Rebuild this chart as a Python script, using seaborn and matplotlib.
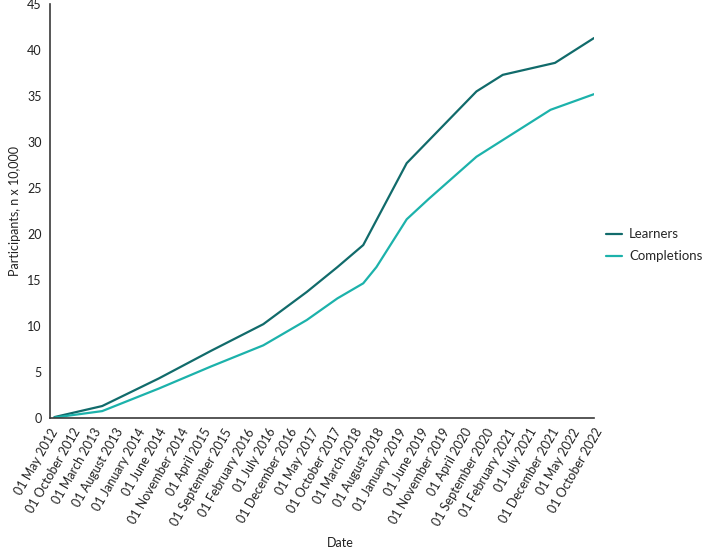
import matplotlib
matplotlib.use("Agg")
import matplotlib.pyplot as plt
import matplotlib.dates as mdates
import seaborn as sns
import pandas as pd

learner_dates = ["2012-06-01", "2013-05-01", "2014-06-01", "2015-06-01", "2016-06-01",
                 "2017-04-01", "2017-11-01", "2018-05-01", "2019-03-01",
                 "2020-07-01", "2021-01-01", "2022-01-01", "2022-10-01"]
learner_values = [0.1, 1.3, 4.3, 7.3, 10.2, 13.7, 16.4, 18.8, 27.7,
                  35.5, 37.3, 38.6, 41.3]

completion_dates = ["2012-06-01", "2013-05-01", "2014-06-01", "2015-06-01", "2016-06-01",
                    "2017-04-01", "2017-11-01", "2018-05-01", "2018-08-01", "2019-03-01",
                    "2019-08-01", "2020-07-01", "2021-12-01", "2022-10-01"]
completion_values = [0.05, 0.75, 3.2, 5.6, 7.9, 10.65, 13.0, 14.64, 16.4, 21.6,
                     23.8, 28.4, 33.5, 35.2]

series_names = ["Learners", "Completions"]
colors = ["#116b6b", "#1cb2ab"]

df = pd.concat([
    pd.DataFrame({"Date": pd.to_datetime(learner_dates), "value": learner_values, "series": series_names[0]}),
    pd.DataFrame({"Date": pd.to_datetime(completion_dates), "value": completion_values, "series": series_names[1]}),
])

sns.set_theme(style="white")
plt.rcParams["font.family"] = ["Lato", "DejaVu Sans"]

fig = plt.figure(figsize=(7.04, 5.48), dpi=100)
ax = fig.add_axes([50/704, 1-418/548, 544/704, 414/548])

sns.lineplot(data=df, x="Date", y="value", hue="series", hue_order=series_names,
             palette=colors, linewidth=1.6, ax=ax)

tick_dates = pd.date_range("2012-05-01", "2022-10-01", freq="5MS")
ax.set_xticks(tick_dates)
ax.xaxis.set_major_formatter(mdates.DateFormatter("%d %B %Y"))
ax.set_xlim(tick_dates[0], tick_dates[-1])
ax.set_ylim(0, 45)
ax.set_yticks(range(0, 46, 5))
plt.setp(ax.get_xticklabels(), rotation=60, ha="right", rotation_mode="anchor")

for s in ["top", "right"]:
    ax.spines[s].set_visible(False)
for s in ["left", "bottom"]:
    ax.spines[s].set_color("#3a3a3a")
    ax.spines[s].set_linewidth(1.2)
ax.tick_params(axis="both", which="major", direction="out", length=4, width=1,
               color="#3a3a3a", labelsize=9, labelcolor="#222222", pad=2)

ax.set_xlabel("Date", fontsize=9, color="#222222")
ax.xaxis.set_label_coords(290/544, -(543-418)/414)
ax.xaxis.label.set_va("center")
ax.set_ylabel("Participants, n x 10,000", fontsize=9, color="#222222")
ax.yaxis.set_label_coords(-(50-15)/544, 0.5)
ax.yaxis.label.set_va("center")

ax.legend(title=None, frameon=False, loc="center left", bbox_to_anchor=(1.0, 0.417),
          fontsize=9.5, handlelength=1.25, handletextpad=0.5, labelspacing=0.75)

fig.savefig("out.png", dpi=100)
